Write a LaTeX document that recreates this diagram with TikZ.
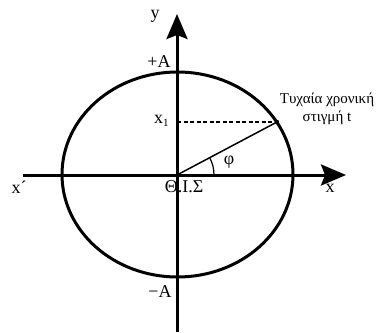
\documentclass[tikz,border=0pt]{standalone}
\usepackage{fontspec}
\setmainfont{Liberation Serif}
\usetikzlibrary{arrows.meta}

\tikzset{
  axisline/.style={line width=3pt, -{Stealth[length=25pt, width=21pt, inset=4pt]}},
  lbl/.style={font=\fontsize{18}{20}\selectfont, inner sep=0pt},
  note/.style={font=\fontsize{15}{18}\selectfont, align=center, inner sep=0pt}
}

\begin{document}
\begin{tikzpicture}[x=1pt, y=-1pt]
          \useasboundingbox (0,0) rectangle (377,332);
          % points
          \coordinate (O) at (177,175);
          \coordinate (C) at (177.5,174.5);
          \coordinate (P) at (277,122);
          \coordinate (X1) at (177,122);
          \coordinate (xl) at (23,175);
          \coordinate (xr) at (346,175);
          \coordinate (yb) at (177,332);
          \coordinate (yt) at (177,14);
          % circle and axes
          \draw[line width=3pt] (C) ellipse [x radius=115.5, y radius=102.5];
          \draw[axisline] (xl) -- (xr);
          \draw[axisline] (yb) -- (yt);
          % phase vector
          \draw[line width=1.5pt] (O) -- (P);
          \draw[line width=1.5pt, dash pattern=on 4pt off 2.5pt] (X1) -- (P);
          \fill (P) circle (2.2);
          \draw[line width=1.2pt] ([shift={(0:37)}]O) arc[start angle=0, end angle=-27.9, radius=37];
          % labels
          \node[lbl] (ylab) at (155,16) {y};
          \node[lbl] (plusA) at (159,62) {+A};
          \node[lbl] (minusA) at (160,292) {−A};
          \node[lbl, anchor=base west] (x1lab) at (154,123) {x{\fontsize{11}{12}\selectfont\raisebox{-3pt}{1}}};
          \node[lbl] (xprime) at (19,187) {x´};
          \node[lbl] (xlab) at (330,188) {x};
          \node[lbl] (philab) at (229,162) {φ};
          \node[lbl, anchor=base] (eq) at (184,192) {Θ.Ι.Σ};
          \node[note] (tnote) at (327,109) {Τυχαία χρονική\\στιγμή t};
        \end{tikzpicture}
\end{document}
